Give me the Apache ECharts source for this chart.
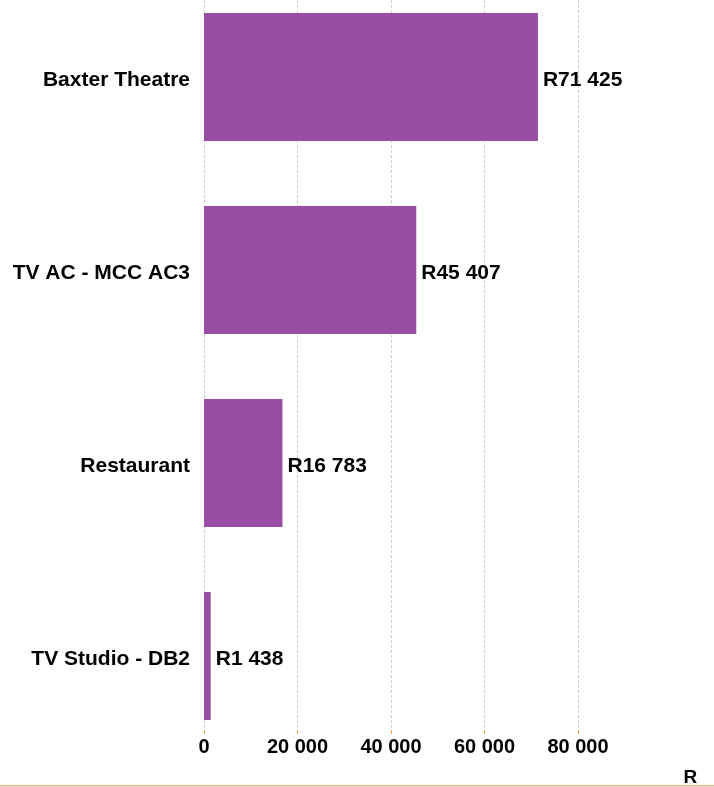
<!DOCTYPE html>
<html>
<head>
<meta charset="utf-8">
<script src="https://cdn.jsdelivr.net/npm/echarts@6/dist/echarts.min.js"></script>
<style>
html,body{margin:0;padding:0;background:#fff;overflow:hidden;width:714px;height:787px}
#c{position:absolute;left:0;top:-20px;width:714px;height:807px}
</style>
</head>
<body>
<div id="c"></div>
<script>
const categories = ['Baxter Theatre', 'TV AC - MCC AC3', 'Restaurant', 'TV Studio - DB2'];
const values = [71425, 45407, 16783, 1438];
const xTicks = [0, 20000, 40000, 60000, 80000];
const axisName = 'R';

function fmt(v) {
  return String(Math.round(v)).replace(/\B(?=(\d{3})+(?!\d))/g, ' ');
}
const FONT = "'Liberation Sans', Arial, sans-serif";

const chart = echarts.init(document.getElementById('c'));
chart.setOption({
  animation: false,
  backgroundColor: '#fff',
  textStyle: { fontFamily: FONT },
  grid: [
    { left: 204, right: 42.5, top: 0.5, height: 772 },
    { left: 204, right: 42.5, top: 0, bottom: 56 }
  ],
  xAxis: [
    { gridIndex: 0, type: 'value', min: 0, max: 100000, show: false },
    {
      gridIndex: 1, type: 'value', min: 0, max: 100000, interval: 20000,
      axisLine: { show: false },
      axisTick: { show: true, length: 4, lineStyle: { color: '#F5A04A' }, customValues: xTicks },
      axisLabel: {
        customValues: xTicks,
        formatter: v => fmt(v), fontSize: 20, fontWeight: 'bold', color: '#000',
        margin: 7, fontFamily: FONT
      },
      splitLine: { show: true, lineStyle: { type: [3, 2], color: '#cfcfcf', width: 1 } },
      name: axisName, nameLocation: 'end', nameGap: 12,
      nameTextStyle: { fontSize: 19, fontWeight: 'bold', color: '#000', fontFamily: FONT,
        verticalAlign: 'top', align: 'left', padding: [38, 0, 0, 0] }
    }
  ],
  yAxis: [
    {
      gridIndex: 0, type: 'category', inverse: true, data: categories,
      axisLine: { show: false }, axisTick: { show: false }, splitLine: { show: false },
      axisLabel: { margin: 14, fontSize: 21, fontWeight: 'bold', color: '#000', fontFamily: FONT,
        verticalAlign: 'top', lineHeight: 6 }
    },
    { gridIndex: 1, type: 'value', show: false }
  ],
  series: [{
    type: 'bar', xAxisIndex: 0, yAxisIndex: 0, data: values, barWidth: 128,
    itemStyle: { color: '#984EA3' },
    label: {
      show: true, position: 'right', distance: 5,
      formatter: p => 'R' + fmt(p.value),
      fontSize: 21, fontWeight: 'bold', color: '#000', fontFamily: FONT,
      verticalAlign: 'top', lineHeight: 6
    }
  }],
  graphic: [{
    type: 'rect', left: 0, top: 805, shape: { width: 714, height: 1.5 },
    style: { fill: '#E8B384' }, silent: true
  }]
});
</script>
</body>
</html>
